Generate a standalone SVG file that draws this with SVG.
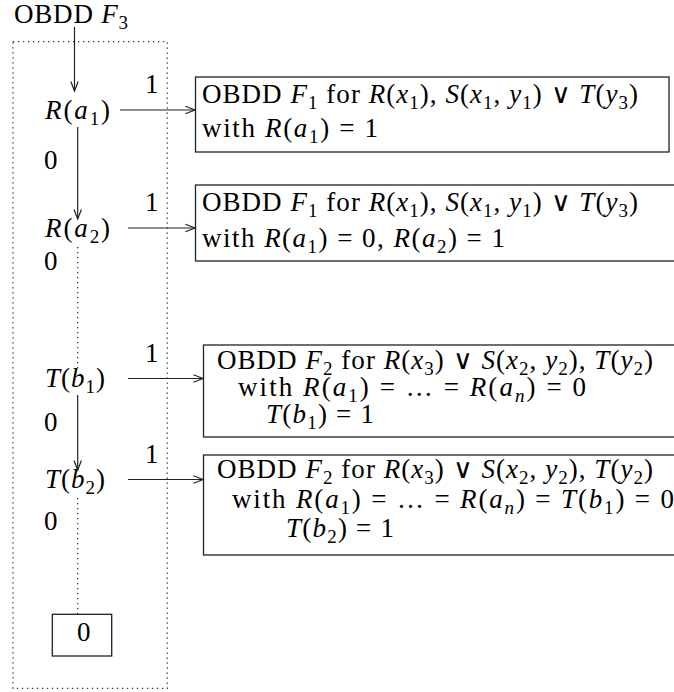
<svg xmlns="http://www.w3.org/2000/svg" width="674" height="692" viewBox="0 0 674 692">
<style>
text { font-family: "Liberation Serif", "DejaVu Serif", serif; font-size: 27px; fill: #000; }
.i { font-family: "Liberation Serif", "DejaVu Serif", serif; font-style: italic; }
.s { font-size: 19px; }
.or { font-family: "DejaVu Sans", sans-serif; font-weight: 200; font-size: 27px; }
.box { fill: none; stroke: #222; stroke-width: 1.3; }
.dot { fill: none; stroke: #333; stroke-width: 1.3; stroke-dasharray: 1.3 3.7; }
.edge { fill: none; stroke: #222; stroke-width: 1.2; }
.arr { marker-end: url(#vee); }
</style>
<defs>
<marker id="vee" markerUnits="userSpaceOnUse" markerWidth="12" markerHeight="10" viewBox="0 0 12 10" refX="10.5" refY="5" orient="auto">
<path d="M1,1.3 L10.5,5 L1,8.7" fill="none" stroke="#222" stroke-width="1.2"/>
</marker>
</defs>
<rect class="dot" x="13" y="41.7" width="154.3" height="646.6"/>
<g id="title"><text x="14" y="23" textLength="114" lengthAdjust="spacing">OBDD <tspan class="i">F</tspan><tspan class="s" dy="6">3</tspan></text></g>
<g id="connectors">
<line class="edge arr" x1="74.5" y1="27" x2="74.5" y2="91"/>
<line class="edge arr" x1="120" y1="110" x2="195" y2="110"/>
<line class="edge arr" x1="77.7" y1="127" x2="77.7" y2="219"/>
<line class="edge arr" x1="128" y1="228" x2="195" y2="228"/>
<line class="dot" x1="77.7" y1="247" x2="77.7" y2="370"/>
<line class="edge arr" x1="128" y1="378.5" x2="203" y2="378.5"/>
<line class="edge arr" x1="77.7" y1="395" x2="77.7" y2="470"/>
<line class="edge arr" x1="128" y1="479.5" x2="203" y2="479.5"/>
<line class="dot" x1="77.7" y1="498" x2="77.7" y2="614"/>
<text x="145" y="93">1</text>
<text x="44" y="169">0</text>
<text x="145" y="211">1</text>
<text x="44" y="270">0</text>
<text x="145" y="362">1</text>
<text x="44" y="431">0</text>
<text x="145" y="463">1</text>
<text x="44" y="530">0</text>
</g>
<g id="Ra1"><text x="45" y="119" textLength="65" lengthAdjust="spacing"><tspan class="i">R</tspan>(<tspan class="i">a</tspan><tspan class="s" dy="6">1</tspan><tspan dy="-6">)</tspan></text></g>
<g id="Ra2"><text x="45" y="237" textLength="65" lengthAdjust="spacing"><tspan class="i">R</tspan>(<tspan class="i">a</tspan><tspan class="s" dy="6">2</tspan><tspan dy="-6">)</tspan></text></g>
<g id="Tb1"><text x="45" y="387" textLength="60" lengthAdjust="spacing"><tspan class="i">T</tspan>(<tspan class="i">b</tspan><tspan class="s" dy="6">1</tspan><tspan dy="-6">)</tspan></text></g>
<g id="Tb2"><text x="45" y="488" textLength="60" lengthAdjust="spacing"><tspan class="i">T</tspan>(<tspan class="i">b</tspan><tspan class="s" dy="6">2</tspan><tspan dy="-6">)</tspan></text></g>
<g id="zero"><rect class="box" x="52.3" y="614.3" width="59.4" height="41.7"/><text x="77" y="641">0</text></g>
<g id="box1"><rect class="box" x="195.5" y="77" width="473.5" height="75"/>
<text x="202" y="103" textLength="436" lengthAdjust="spacing">OBDD <tspan class="i">F</tspan><tspan class="s" dy="6">1</tspan><tspan dy="-6"> for </tspan><tspan class="i">R</tspan>(<tspan class="i">x</tspan><tspan class="s" dy="6">1</tspan><tspan dy="-6">), </tspan><tspan class="i">S</tspan>(<tspan class="i">x</tspan><tspan class="s" dy="6">1</tspan><tspan dy="-6">, </tspan><tspan class="i">y</tspan><tspan class="s" dy="6">1</tspan><tspan dy="-6">) </tspan><tspan class="or">∨</tspan> <tspan class="i">T</tspan>(<tspan class="i">y</tspan><tspan class="s" dy="6">3</tspan><tspan dy="-6">)</tspan></text>
<text x="202" y="137" textLength="176" lengthAdjust="spacing">with <tspan class="i">R</tspan>(<tspan class="i">a</tspan><tspan class="s" dy="6">1</tspan><tspan dy="-6">) = 1</tspan></text>
</g>
<g id="box2"><rect class="box" x="195.5" y="185" width="490" height="76"/>
<text x="202" y="211" textLength="436" lengthAdjust="spacing">OBDD <tspan class="i">F</tspan><tspan class="s" dy="6">1</tspan><tspan dy="-6"> for </tspan><tspan class="i">R</tspan>(<tspan class="i">x</tspan><tspan class="s" dy="6">1</tspan><tspan dy="-6">), </tspan><tspan class="i">S</tspan>(<tspan class="i">x</tspan><tspan class="s" dy="6">1</tspan><tspan dy="-6">, </tspan><tspan class="i">y</tspan><tspan class="s" dy="6">1</tspan><tspan dy="-6">) </tspan><tspan class="or">∨</tspan> <tspan class="i">T</tspan>(<tspan class="i">y</tspan><tspan class="s" dy="6">3</tspan><tspan dy="-6">)</tspan></text>
<text x="202" y="247" textLength="303" lengthAdjust="spacing">with <tspan class="i">R</tspan>(<tspan class="i">a</tspan><tspan class="s" dy="6">1</tspan><tspan dy="-6">) = 0, </tspan><tspan class="i">R</tspan>(<tspan class="i">a</tspan><tspan class="s" dy="6">2</tspan><tspan dy="-6">) = 1</tspan></text>
</g>
<g id="box3"><rect class="box" x="203.5" y="345" width="490" height="92"/>
<text x="217" y="369" textLength="436" lengthAdjust="spacing">OBDD <tspan class="i">F</tspan><tspan class="s" dy="6">2</tspan><tspan dy="-6"> for </tspan><tspan class="i">R</tspan>(<tspan class="i">x</tspan><tspan class="s" dy="6">3</tspan><tspan dy="-6">) </tspan><tspan class="or">∨</tspan> <tspan class="i">S</tspan>(<tspan class="i">x</tspan><tspan class="s" dy="6">2</tspan><tspan dy="-6">, </tspan><tspan class="i">y</tspan><tspan class="s" dy="6">2</tspan><tspan dy="-6">), </tspan><tspan class="i">T</tspan>(<tspan class="i">y</tspan><tspan class="s" dy="6">2</tspan><tspan dy="-6">)</tspan></text>
<text x="238" y="396" textLength="348" lengthAdjust="spacing">with <tspan class="i">R</tspan>(<tspan class="i">a</tspan><tspan class="s" dy="6">1</tspan><tspan dy="-6">) = … = </tspan><tspan class="i">R</tspan>(<tspan class="i">a</tspan><tspan class="s i" dy="6">n</tspan><tspan dy="-6">) = 0</tspan></text>
<text x="266" y="423" textLength="108" lengthAdjust="spacing"><tspan class="i">T</tspan>(<tspan class="i">b</tspan><tspan class="s" dy="6">1</tspan><tspan dy="-6">) = 1</tspan></text>
</g>
<g id="box4"><rect class="box" x="203.5" y="455" width="490" height="100"/>
<text x="217" y="478" textLength="436" lengthAdjust="spacing">OBDD <tspan class="i">F</tspan><tspan class="s" dy="6">2</tspan><tspan dy="-6"> for </tspan><tspan class="i">R</tspan>(<tspan class="i">x</tspan><tspan class="s" dy="6">3</tspan><tspan dy="-6">) </tspan><tspan class="or">∨</tspan> <tspan class="i">S</tspan>(<tspan class="i">x</tspan><tspan class="s" dy="6">2</tspan><tspan dy="-6">, </tspan><tspan class="i">y</tspan><tspan class="s" dy="6">2</tspan><tspan dy="-6">), </tspan><tspan class="i">T</tspan>(<tspan class="i">y</tspan><tspan class="s" dy="6">2</tspan><tspan dy="-6">)</tspan></text>
<text x="232" y="508" textLength="442" lengthAdjust="spacing">with <tspan class="i">R</tspan>(<tspan class="i">a</tspan><tspan class="s" dy="6">1</tspan><tspan dy="-6">) = … = </tspan><tspan class="i">R</tspan>(<tspan class="i">a</tspan><tspan class="s i" dy="6">n</tspan><tspan dy="-6">) = </tspan><tspan class="i">T</tspan>(<tspan class="i">b</tspan><tspan class="s" dy="6">1</tspan><tspan dy="-6">) = 0</tspan></text>
<text x="286" y="537" textLength="108" lengthAdjust="spacing"><tspan class="i">T</tspan>(<tspan class="i">b</tspan><tspan class="s" dy="6">2</tspan><tspan dy="-6">) = 1</tspan></text>
</g>
</svg>
